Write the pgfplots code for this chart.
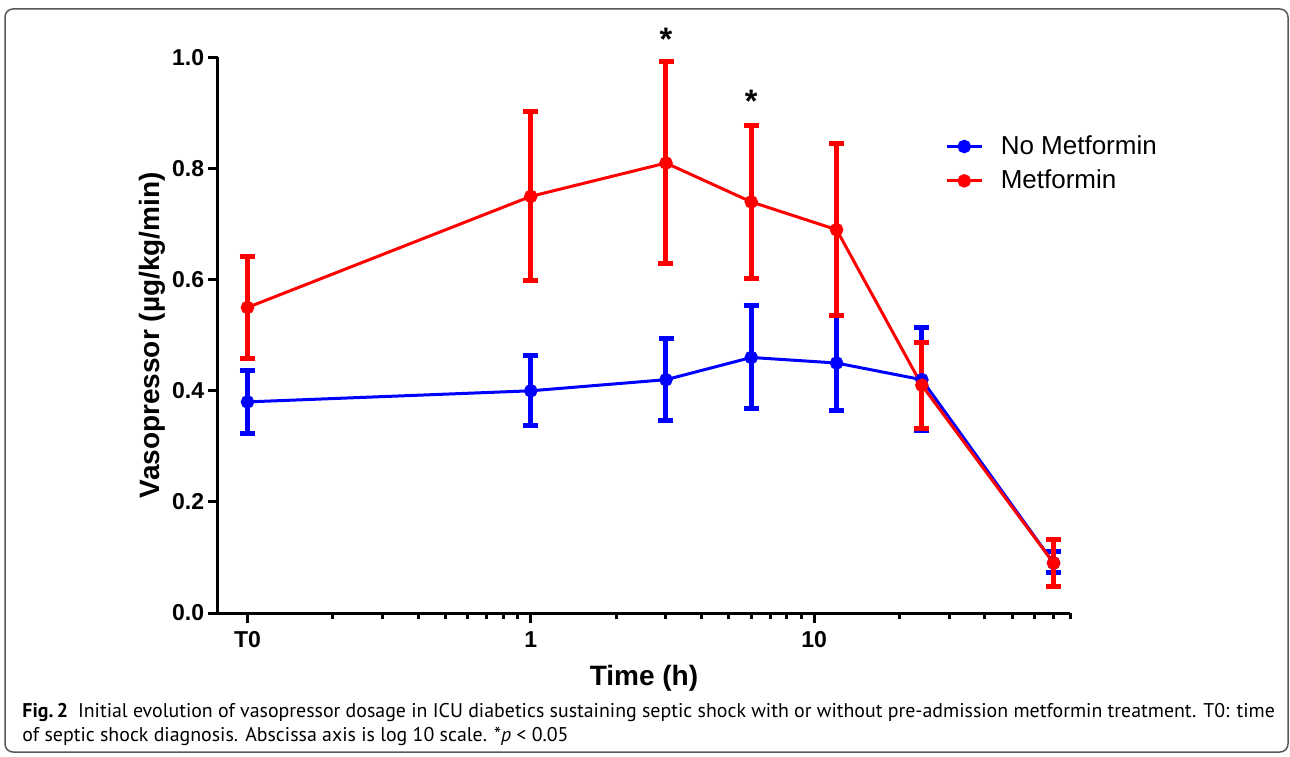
\documentclass[border=0pt]{standalone}
\usepackage{fontspec}
\setmainfont{Liberation Sans}
\newfontfamily\capfont{PT Sans}
\usepackage{pgfplots}
\usepackage{pgfplotstable}
\pgfplotsset{compat=1.18}

% time (h), mean dose, error up, error down
\pgfplotstableread{
t    v     ep     em
0.1  0.38  0.056  0.056
1    0.40  0.064  0.063
3    0.42  0.075  0.074
6    0.46  0.093  0.091
12   0.45  0.086  0.086
24   0.42  0.094  0.092
70   0.09  0.020  0.017
}\nometformin
\pgfplotstableread{
t    v     ep     em
0.1  0.55  0.091  0.091
1    0.75  0.152  0.152
3    0.81  0.182  0.180
6    0.74  0.138  0.137
12   0.69  0.156  0.155
24   0.41  0.077  0.078
70   0.09  0.043  0.043
}\metformin

\begin{document}
\begin{tikzpicture}
% page 1290x756 px at 0.4pt per px
\useasboundingbox (0,0) rectangle (516pt,302.4pt);
\draw[line width=0.6pt, draw=black!65, rounded corners=3.2pt] (2pt,1.6pt) rectangle (515.2pt,298.8pt);

\begin{axis}[
    at={(87.2pt,57.2pt)}, anchor=south west,
    scale only axis,
    width=340.8pt, height=222.2pt,
    xmode=log,
    xmin=0.0787, xmax=80,
    ymin=0, ymax=1,
    axis lines*=left,
    axis line style={line width=1.2pt},
    every tick/.style={black, line width=1.2pt},
    tick align=outside,
    major tick length=4pt,
    minor tick length=2.4pt,
    xtick={0.1,1,10},
    xticklabels={T0,1,10},
    minor xtick={0.2,0.3,0.4,0.5,0.6,0.7,0.8,0.9,2,3,4,5,6,7,8,9,20,30,40,50,60,70,80},
    ytick={0,0.2,0.4,0.6,0.8,1},
    yticklabel style={xshift=2pt, /pgf/number format/.cd, fixed, fixed zerofill, precision=1, assume math mode=true},
    tick label style={font=\bfseries\fontsize{9.2}{10}\selectfont},
    xlabel={Time (h)},
    ylabel={Vasopressor (µg/kg/min)},
    label style={font=\bfseries\fontsize{11.2}{12}\selectfont},
    ylabel style={yshift=-4pt},
    clip=false,
    legend style={at={(rel axis cs:0.853,0.870)}, anchor=north west, draw=none, fill=none,
        font=\fontsize{10.4}{12}\selectfont, row sep=0.7pt, inner sep=0pt,
        /tikz/every odd column/.append style={column sep=5pt}},
    legend cell align=left,
    legend image code/.code={\draw[mark repeat=2,mark phase=2] plot coordinates {(0pt,0pt)(7pt,0pt)(14pt,0pt)};},
]
\addplot[blue, line width=1.2pt, mark=*, mark size=2.1pt, mark options={fill=blue},
    error bars/.cd, y dir=both, y explicit,
    error bar style={line width=2pt},
    error mark options={rotate=90, line width=2pt, mark size=3pt}]
    table[x=t, y=v, y error plus=ep, y error minus=em] {\nometformin};
\addlegendentry{No Metformin}
\addplot[red, line width=1.2pt, mark=*, mark size=2.1pt, mark options={fill=red},
    error bars/.cd, y dir=both, y explicit,
    error bar style={line width=2pt},
    error mark options={rotate=90, line width=2pt, mark size=3pt}]
    table[x=t, y=v, y error plus=ep, y error minus=em] {\metformin};
\addlegendentry{Metformin}
\node[font=\bfseries\fontsize{13}{13}\selectfont] at (axis cs:3,1.032) {*};
\node[font=\bfseries\fontsize{13}{13}\selectfont] at (axis cs:6,0.921) {*};
\end{axis}

\begin{scope}[every node/.style={anchor=base west, inner sep=0pt, font=\capfont\fontsize{7.95}{9.6}\selectfont}]
\node at (8.8pt,15.6pt) {\textbf{Fig.\,2}\hspace{4pt}Initial evolution of vasopressor dosage in ICU diabetics sustaining septic shock with or without pre-admission metformin treatment. T0: time};
\node at (8.8pt,6pt) {of septic shock diagnosis. Abscissa axis is log 10 scale. *\textit{p} < 0.05};
\end{scope}
\end{tikzpicture}
\end{document}
